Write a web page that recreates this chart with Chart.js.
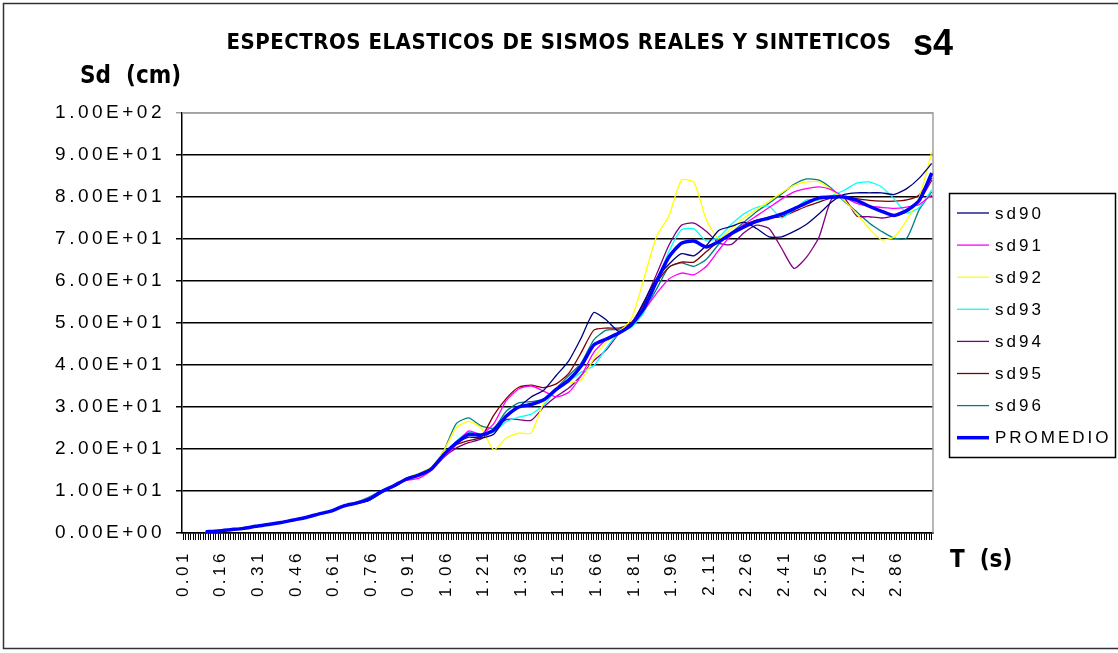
<!DOCTYPE html>
<html lang="es">
<head>
<meta charset="UTF-8">
<script src="https://cdn.jsdelivr.net/npm/chart.js"></script>
<title>Espectros elasticos s4</title>
<style>
    body { margin: 0; background: #fff; }
    #espectros { display: block; }
</style>
</head>
<body>
<canvas id="espectros" width="1118" height="653"></canvas>
<script>
// periodos T (s) en los que se tomaron las ordenadas Sd (cm)
const periodos = [
    0.10, 0.15, 0.20, 0.25, 0.30, 0.35, 0.40, 0.45, 0.50, 0.55,
    0.60, 0.65, 0.70, 0.75, 0.80, 0.85, 0.90, 0.95, 1.00, 1.05,
    1.10, 1.15, 1.20, 1.25, 1.30, 1.35, 1.40, 1.45, 1.50, 1.55,
    1.60, 1.65, 1.70, 1.75, 1.80, 1.85, 1.90, 1.95, 2.00, 2.05,
    2.10, 2.15, 2.20, 2.25, 2.30, 2.35, 2.40, 2.45, 2.50, 2.55,
    2.60, 2.65, 2.70, 2.75, 2.80, 2.85, 2.90, 2.95, 3.00
];

const sd90 = [
    0.3, 0.5, 0.8, 1.1, 1.6, 2.1, 2.5, 3.1, 3.7, 4.4,
    5.2, 6.3, 7.0, 7.8, 9.6, 11.3, 12.9, 13.9, 15.3, 18.8,
    21.2, 22.8, 22.6, 23.5, 27.6, 30.0, 32.4, 34.0, 37.5, 41.0,
    46.5, 52.5, 50.7, 48.0, 49.5, 55.0, 60.5, 64.0, 66.5, 66.0,
    68.5, 72.1, 73.0, 74.0, 72.5, 70.5, 70.5, 71.8, 73.5, 76.0,
    78.8, 80.6, 81.0, 81.0, 81.0, 80.6, 82.0, 84.5, 88.0
];
const sd91 = [
    0.3, 0.5, 0.8, 1.1, 1.6, 2.0, 2.5, 3.1, 3.7, 4.5,
    5.2, 6.3, 7.1, 7.9, 9.6, 11.0, 12.5, 13.0, 14.8, 18.0,
    21.0, 24.3, 23.5, 26.0, 31.5, 34.3, 35.0, 33.8, 32.4, 33.5,
    37.5, 43.0, 46.0, 47.5, 49.5, 53.0, 57.0, 60.5, 61.9, 61.5,
    63.5, 67.4, 71.0, 73.5, 75.5, 77.5, 79.5, 81.2, 82.0, 82.4,
    81.7, 80.0, 78.5, 77.8, 77.5, 77.3, 77.6, 78.2, 80.5
];
const sd92 = [
    0.3, 0.5, 0.8, 1.1, 1.6, 2.0, 2.5, 3.1, 3.7, 4.5,
    5.3, 6.5, 7.3, 8.3, 9.9, 11.4, 12.9, 14.2, 15.6, 19.5,
    25.0, 26.6, 25.0, 19.8, 22.6, 23.8, 23.8, 31.0, 34.5, 35.7,
    36.5, 41.5, 45.5, 47.8, 51.0, 60.5, 70.5, 75.5, 84.0, 83.5,
    74.5, 70.0, 72.5, 75.0, 77.0, 79.0, 81.0, 82.8, 83.6, 83.6,
    81.7, 79.2, 76.0, 72.5, 69.8, 70.5, 74.5, 80.0, 90.7
];
const sd93 = [
    0.3, 0.5, 0.8, 1.1, 1.6, 2.0, 2.5, 3.1, 3.7, 4.5,
    5.2, 6.4, 7.0, 7.8, 9.5, 11.4, 12.6, 13.7, 15.0, 18.4,
    21.8, 24.0, 23.6, 24.0, 26.5, 27.6, 28.3, 30.5, 34.0, 36.0,
    38.3, 39.8, 44.0, 47.6, 49.0, 52.5, 59.5, 67.0, 72.2, 72.4,
    69.5, 70.5, 73.5, 76.0, 77.5, 77.8, 75.0, 77.0, 79.3, 79.3,
    80.3, 81.6, 83.3, 83.6, 82.4, 79.5, 76.2, 77.5, 81.7
];
const sd94 = [
    0.3, 0.5, 0.8, 1.1, 1.6, 2.0, 2.5, 3.1, 3.7, 4.5,
    5.2, 6.4, 7.1, 8.0, 9.8, 11.0, 12.6, 13.6, 15.0, 18.0,
    20.2, 21.5, 22.4, 24.5, 27.0, 27.0, 26.8, 30.0, 32.5, 34.5,
    37.5, 41.0, 43.6, 47.5, 50.0, 55.0, 61.5, 68.5, 73.3, 73.8,
    71.8, 69.0, 68.7, 71.5, 73.3, 72.5, 67.8, 63.0, 65.7, 70.5,
    79.5, 79.8, 75.5, 75.3, 75.0, 75.5, 76.5, 79.0, 84.0
];
const sd95 = [
    0.3, 0.5, 0.8, 1.1, 1.6, 2.1, 2.6, 3.2, 3.8, 4.6,
    5.3, 6.4, 7.0, 7.7, 9.5, 11.2, 13.0, 14.0, 15.2, 18.2,
    21.0, 22.0, 22.8, 28.0, 32.0, 34.7, 35.2, 34.6, 35.5, 38.0,
    43.0, 48.3, 48.8, 48.8, 50.0, 54.5, 59.5, 63.3, 64.5, 64.5,
    67.0, 69.5, 71.5, 73.3, 74.5, 75.0, 75.3, 76.5, 77.8, 78.8,
    79.8, 80.0, 79.6, 79.2, 79.0, 79.0, 79.3, 80.5, 84.5
];
const sd96 = [
    0.3, 0.5, 0.8, 1.1, 1.6, 2.0, 2.5, 3.1, 3.7, 4.5,
    5.2, 6.5, 7.3, 8.5, 10.0, 11.3, 12.8, 13.9, 15.3, 19.5,
    26.0, 27.4, 25.5, 25.0, 29.0, 31.0, 31.3, 31.8, 34.5, 37.5,
    40.5, 46.0, 48.3, 48.5, 50.0, 53.0, 58.0, 63.3, 64.3, 63.5,
    65.2, 68.8, 71.5, 74.0, 76.5, 78.5, 80.7, 83.0, 84.3, 84.0,
    82.0, 79.0, 76.5, 73.8, 71.8, 70.2, 70.2, 77.0, 81.2
];
const promedio = [
    0.3, 0.5, 0.8, 1.1, 1.6, 2.0, 2.5, 3.1, 3.7, 4.5,
    5.2, 6.4, 7.1, 8.0, 9.8, 11.2, 12.8, 13.8, 15.2, 18.6,
    21.4, 23.5, 23.3, 24.5, 27.8, 30.0, 30.6, 31.7, 34.2, 36.4,
    39.8, 44.8, 46.2, 47.6, 49.6, 53.5, 59.8, 65.7, 69.0, 69.5,
    68.1, 69.4, 71.3, 72.9, 74.2, 75.0, 75.9, 77.2, 78.6, 79.8,
    80.0, 80.0, 79.2, 77.8, 76.6, 75.6, 76.8, 79.2, 85.7
];

// rotulos visibles del eje T
const etiquetasT = ['0.01', '0.16', '0.31', '0.46', '0.61', '0.76', '0.91', '1.06', '1.21',
    '1.36', '1.51', '1.66', '1.81', '1.96', '2.11', '2.26', '2.41', '2.56', '2.71', '2.86'];

// eje de categorias: de 0.01 a 3.00 s cada 0.01
const categorias = [];
for (let i = 1; i <= 300; i++) categorias.push((i / 100).toFixed(2));

const series = [
    ['sd90', sd90, '#000080', 1.3],
    ['sd91', sd91, '#ff00ff', 1.3],
    ['sd92', sd92, '#ffff00', 1.3],
    ['sd93', sd93, '#00ffff', 1.3],
    ['sd94', sd94, '#800080', 1.3],
    ['sd95', sd95, '#800000', 1.3],
    ['sd96', sd96, '#008080', 1.3],
    ['PROMEDIO', promedio, '#0000ff', 3.5]
];

function formatoE(v) {
    const [m, e] = Number(v).toExponential(2).split('e');
    return m + 'E' + e[0] + e.slice(1).padStart(2, '0');
}

const fuente = '"Liberation Sans", Arial, sans-serif';
const fuenteAngosta = '"Liberation Sans Narrow", "DejaVu Sans Condensed", sans-serif';

// marco, textos y leyenda
const decorado = {
    id: 'decorado',
    beforeDraw(chart) {
        chart.ctx.letterSpacing = '3.5px';
    },
    beforeDatasetsDraw(chart) {
        const { ctx, chartArea: a } = chart;
        ctx.save();
        ctx.strokeStyle = '#a0a0a0';
        ctx.lineWidth = 1.5;
        ctx.beginPath();
        ctx.moveTo(a.left, a.top);
        ctx.lineTo(a.right, a.top);
        ctx.lineTo(a.right, a.bottom);
        ctx.stroke();
        ctx.restore();
    },
    afterDraw(chart) {
        const ctx = chart.ctx;
        ctx.save();
        ctx.letterSpacing = '0px';
        ctx.strokeStyle = '#333';
        ctx.lineWidth = 1.5;
        ctx.strokeRect(3.5, 3.5, 1130, 645);

        ctx.fillStyle = '#000';
        ctx.textBaseline = 'alphabetic';
        ctx.textAlign = 'center';
        ctx.letterSpacing = '0.5px';
        ctx.font = 'bold 22px ' + fuenteAngosta;
        ctx.fillText('ESPECTROS ELASTICOS DE SISMOS REALES Y SINTETICOS', 559, 49);
        ctx.textAlign = 'left';
        ctx.letterSpacing = '0px';
        ctx.font = 'bold 36px ' + fuente;
        ctx.fillText('s4', 913, 55);
        ctx.font = 'bold 24px ' + fuenteAngosta;
        ctx.fillText('Sd  (cm)', 80, 83);
        ctx.fillText('T  (s)', 950, 567);

        // leyenda
        ctx.letterSpacing = '3px';
        ctx.strokeStyle = '#000';
        ctx.lineWidth = 1.5;
        ctx.strokeRect(949.5, 193.5, 166, 264);
        ctx.font = '17px ' + fuente;
        ctx.textBaseline = 'middle';
        chart.data.datasets.forEach((ds, i) => {
            const y = 213 + i * 32.1;
            ctx.strokeStyle = ds.borderColor;
            ctx.lineWidth = ds.borderWidth;
            ctx.beginPath();
            ctx.moveTo(957, y);
            ctx.lineTo(989, y);
            ctx.stroke();
            ctx.fillText(ds.label, 995, y + 1);
        });
        ctx.restore();
    }
};

new Chart(document.getElementById('espectros'), {
    type: 'line',
    data: {
        labels: categorias,
        datasets: series.map(([nombre, valores, color, ancho]) => ({
            label: nombre,
            data: periodos.map((t, i) => ({ x: t.toFixed(2), y: valores[i] })),
            borderColor: color,
            borderWidth: ancho,
            pointRadius: 0,
            tension: 0.2,
            fill: false,
            order: nombre === 'PROMEDIO' ? -1 : 0
        }))
    },
    options: {
        responsive: false,
        animation: false,
        layout: { padding: { left: 0, top: 113, right: 185, bottom: 10 } },
        plugins: {
            legend: { display: false },
            title: { display: false },
            tooltip: { enabled: false }
        },
        scales: {
            x: {
                type: 'category',
                offset: true,
                grid: { drawOnChartArea: false, color: '#000', lineWidth: 1, tickLength: 7 },
                border: { color: '#000', width: 1.5 },
                ticks: {
                    autoSkip: false,
                    minRotation: 90,
                    maxRotation: 90,
                    padding: 10,
                    color: '#000',
                    font: { family: fuente, size: 17 },
                    callback: function (v) {
                        const l = this.getLabelForValue(v);
                        return etiquetasT.includes(l) ? l : '';
                    }
                },
                afterFit: s => { s.height = 110; }
            },
            y: {
                min: 0,
                max: 100,
                grid: {
                    color: c => c.tick && c.tick.value === 100 ? '#a0a0a0' : '#000',
                    lineWidth: 1.5,
                    tickLength: 6
                },
                border: { color: '#000', width: 1.5 },
                ticks: {
                    stepSize: 10,
                    padding: 11,
                    color: '#000',
                    font: { family: fuente, size: 19 },
                    callback: v => formatoE(v)
                },
                afterFit: s => { s.width = 182; }
            }
        }
    },
    plugins: [decorado]
});
</script>
</body>
</html>
